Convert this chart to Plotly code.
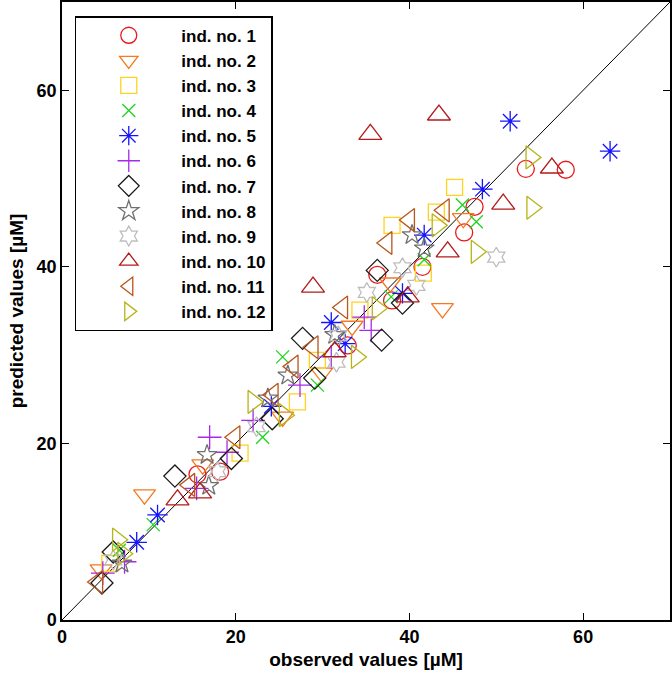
import plotly.graph_objects as go

names = [f"<b>ind. no. {i}</b>" for i in range(1, 13)]
tick_values = [0, 20, 40, 60]
tick_labels = ["<b>0</b>", "<b>20</b>", "<b>40</b>", "<b>60</b>"]

obs1 = [15.6, 18.2, 32.9, 36.3, 38.0, 41.5, 46.3, 47.5, 53.4, 58.0]
pred1 = [16.5, 16.8, 31.1, 39.1, 36.2, 40.0, 43.9, 46.8, 51.1, 51.0]

obs2 = [4.5, 9.5, 16.2, 25.4, 29.9, 33.4, 37.8, 43.8, 46.2]
pred2 = [5.7, 14.2, 17.6, 23.0, 28.0, 33.3, 38.2, 35.3, 45.5]

obs3 = [5.5, 20.5, 27.1, 29.4, 34.3, 38.0, 41.6, 43.1, 45.2]
pred3 = [6.4, 18.9, 24.7, 29.4, 35.1, 44.7, 39.3, 46.2, 49.0]

obs4 = [6.6, 10.5, 23.1, 25.4, 29.4, 37.9, 41.7, 46.1, 47.7]
pred4 = [7.9, 10.8, 20.7, 29.8, 26.6, 36.6, 40.8, 47.0, 45.1]

obs5 = [8.6, 11.0, 24.1, 31.0, 32.6, 39.2, 41.7, 48.4, 51.6, 63.1]
pred5 = [8.8, 11.9, 24.2, 33.7, 31.3, 37.0, 43.6, 48.8, 56.5, 53.1]

obs6 = [4.7, 7.2, 15.5, 17.0, 19.0, 22.0, 27.4, 31.0, 34.8, 35.6]
pred6 = [5.3, 6.6, 14.9, 20.7, 19.0, 22.6, 26.6, 29.8, 34.3, 32.8]

obs7 = [4.6, 5.9, 13.0, 19.5, 24.2, 27.7, 29.1, 36.3, 36.8, 39.2]
pred7 = [4.2, 7.7, 16.3, 18.3, 22.8, 31.9, 27.4, 39.6, 31.7, 35.9]

obs8 = [6.9, 16.7, 16.9, 23.7, 26.0, 31.4, 40.3, 41.7]
pred8 = [6.4, 18.7, 15.2, 25.1, 27.7, 32.3, 43.6, 42.1]

obs9 = [5.9, 17.9, 22.4, 31.6, 31.8, 35.1, 39.2, 40.8, 50.0]
pred9 = [6.8, 16.8, 21.9, 29.2, 32.2, 37.1, 39.9, 37.9, 41.1]

obs10 = [13.3, 15.9, 28.9, 31.4, 35.5, 39.8, 43.4, 44.4, 50.8, 56.4]
pred10 = [13.6, 14.4, 37.7, 30.4, 55.0, 36.6, 57.2, 41.7, 47.1, 51.2]

obs11 = [4.1, 14.7, 19.9, 24.3, 26.6, 28.9, 32.3, 37.4, 40.0, 44.0]
pred11 = [4.3, 15.3, 20.7, 25.5, 28.7, 30.9, 35.4, 42.7, 45.3, 46.4]

obs12 = [6.4, 7.0, 22.0, 25.6, 33.9, 36.3, 43.2, 47.7, 54.1, 54.0]
pred12 = [9.1, 7.5, 24.7, 23.2, 29.8, 35.3, 44.7, 41.7, 46.7, 52.4]

observed = [obs1, obs2, obs3, obs4, obs5, obs6, obs7, obs8, obs9, obs10, obs11, obs12]
predicted = [pred1, pred2, pred3, pred4, pred5, pred6, pred7, pred8, pred9, pred10, pred11, pred12]

symbols = ["circle-open", "triangle-down-open", "square-open", "x-thin-open",
           "asterisk-open", "cross-thin-open", "diamond-open", "star-open",
           "hexagram-open", "triangle-up-open", "triangle-left-open", "triangle-right-open"]
colors = ["#e8191d", "#f47920", "#ffd21f", "#1fd41f", "#1414ff", "#a829e8",
          "#1a1a1a", "#707070", "#bdbdbd", "#b31b1b", "#b8561c", "#b5b51a"]
sizes = [17, 19, 16, 13, 17, 17, 17, 15, 15, 20, 20, 20]

identity = [0, 70]

fig = go.Figure()
fig.add_trace(go.Scatter(x=identity, y=identity, mode="lines",
                         line=dict(color="black", width=1), showlegend=False,
                         hoverinfo="skip"))
for i in range(12):
    fig.add_trace(go.Scatter(
        x=observed[i], y=predicted[i], mode="markers", name=names[i],
        marker=dict(symbol=symbols[i], size=sizes[i], color=colors[i],
                    line=dict(width=1.3, color=colors[i]))))

font_family = "Arial, Liberation Sans, sans-serif"
axis_common = dict(range=[0, 70], tickvals=tick_values, ticktext=tick_labels,
                   showline=True, linecolor="black", linewidth=1.5, mirror="ticks",
                   ticks="inside", ticklen=7, tickcolor="black", showgrid=False,
                   zeroline=False, automargin=False,
                   tickfont=dict(family=font_family, size=18, color="black"))
fig.update_layout(
    width=672, height=679,
    margin=dict(l=62, r=2, t=2, b=59, autoexpand=False),
    plot_bgcolor="white", paper_bgcolor="white",
    font=dict(family=font_family, size=16, color="black"),
    xaxis=dict(**axis_common,
               title=dict(text="<b>observed values [µM]</b>", standoff=6,
                          font=dict(family=font_family, size=19))),
    yaxis=dict(**axis_common,
               title=dict(text="<b>predicted values [µM]</b>", standoff=8,
                          font=dict(family=font_family, size=19))),
    legend=dict(x=0.021, y=0.977, xanchor="left", yanchor="top",
                bgcolor="white", bordercolor="black", borderwidth=1.5,
                font=dict(family=font_family, size=17, color="black"),
                itemwidth=95),
)

fig.write_html("out.html", config={"displayModeBar": False},
               post_script="document.body.style.margin='0px';")
